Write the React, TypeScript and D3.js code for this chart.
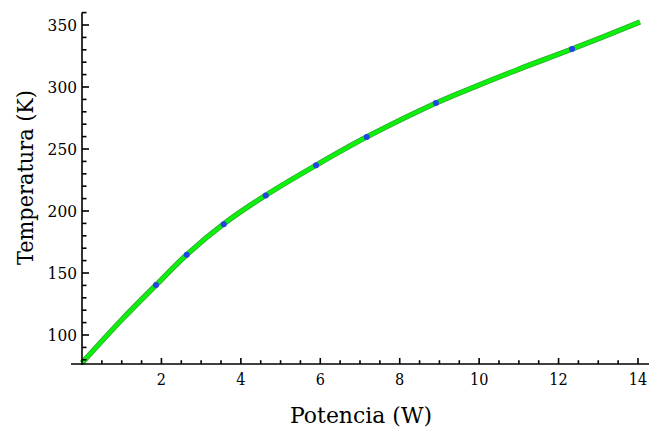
import { useMemo } from "react";
import * as d3 from "d3";

// measured points
const powerW = [1.864, 2.637, 3.569, 4.627, 5.894, 7.17, 8.91, 12.34];
const tempK = [140.3, 164.7, 189.4, 212.5, 236.9, 259.7, 287.0, 330.6];

// fitted curve
const fitP = [0, 1, 1.864, 2.637, 3.569, 4.627, 5.894, 7.17, 8.91, 10, 11, 12.34, 14.05];
const fitT = [77.5, 112.3, 140.3, 164.8, 189.6, 212.7, 236.9, 259.7, 287.0, 301.6, 314.4, 330.6, 352.4];

const xTickLabels = [2, 4, 6, 8, 10, 12, 14];
const yTickLabels = [100, 150, 200, 250, 300, 350];

const W = 649;
const H = 428;

export default function App() {
    const x = useMemo(() => d3.scaleLinear().domain([0, 14]).range([82, 638]), []);
    const y = useMemo(() => d3.scaleLinear().domain([100, 350]).range([335, 25]), []);

    const xAxisY = y(76.6);
    const xMinor = d3.range(0.5, 14.01, 0.5).filter(v => Math.abs(v % 2) > 0.01);
    const yMinor = d3.range(80, 360.1, 10).filter(v => v % 50 !== 0);

    const line = d3.line<number>()
        .x((_, i) => x(fitP[i]))
        .y(d => y(d))
        .curve(d3.curveCatmullRom.alpha(0.5));
    const path = line(fitT) || "";

    // only DejaVu Serif resolves here; squeeze it to the Times-like widths
    const font = "DejaVu Serif, serif";

    return (
        <svg width={W} height={H} style={{ position: "absolute", left: 0, top: 0, background: "#fff" }}>
            {/* fitted curve */}
            <path d={path} fill="none" stroke="#35a535" strokeWidth={5.4} strokeLinecap="butt" />
            <path d={path} fill="none" stroke="#0cf00c" strokeWidth={3.8} strokeLinecap="butt" />

            {/* measured points */}
            {powerW.map((p, i) => (
                <circle key={i} cx={x(p)} cy={y(tempK[i])} r={3} fill="#2244e6" />
            ))}

            {/* axes */}
            <g stroke="#000" strokeWidth={1.6}>
                <line x1={71} x2={W} y1={xAxisY} y2={xAxisY} />
                <line x1={x(0)} x2={x(0)} y1={y(360)} y2={xAxisY + 1} />
                {xTickLabels.map(v => (
                    <line key={v} x1={x(v)} x2={x(v)} y1={xAxisY} y2={xAxisY - 6} />
                ))}
                {xMinor.map(v => (
                    <line key={v} x1={x(v)} x2={x(v)} y1={xAxisY} y2={xAxisY - 3.8} />
                ))}
                {yTickLabels.map(v => (
                    <line key={v} x1={x(0)} x2={x(0) + 7} y1={y(v)} y2={y(v)} />
                ))}
                {yMinor.map(v => (
                    <line key={v} x1={x(0)} x2={x(0) + 4.5} y1={y(v)} y2={y(v)} />
                ))}
            </g>

            <g fontFamily={font} fontSize={17.5} fill="#000">
                {xTickLabels.map(v => (
                    <text key={v} x={x(v)} y={385} textAnchor="middle"
                        textLength={String(v).length * 9.2} lengthAdjust="spacingAndGlyphs">{v}</text>
                ))}
                {yTickLabels.map(v => (
                    <text key={v} x={77} y={y(v) + 6.3} textAnchor="end"
                        textLength={String(v).length * 9.8} lengthAdjust="spacingAndGlyphs">{v}</text>
                ))}
            </g>

            <text x={361} y={423} textAnchor="middle" fontFamily={font} fontSize={23}
                textLength={142} lengthAdjust="spacingAndGlyphs">Potencia (W)</text>
            <text transform={`translate(33,177.5) rotate(-90)`} textAnchor="middle" fontFamily={font} fontSize={23}
                textLength={175} lengthAdjust="spacingAndGlyphs">Temperatura (K)</text>
        </svg>
    );
}
